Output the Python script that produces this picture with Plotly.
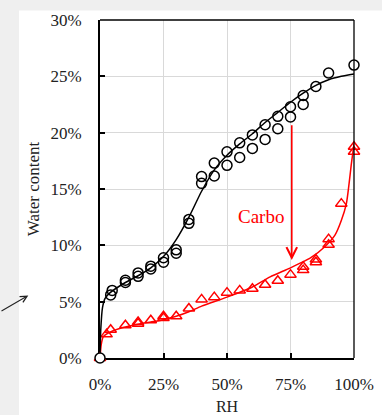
import plotly.graph_objects as go

# Sorption isotherm data: relative humidity (%) vs. water content (%)
circle_rh = [0, 4.2, 4.8, 10, 10, 15, 15, 20, 20, 25, 25, 30, 30, 35, 35,
             40, 40, 45, 45, 50, 50, 55, 55, 60, 60, 65, 65, 70, 70,
             75, 75, 80, 80, 85, 90, 100]
circle_wc = [0, 5.6, 6.0, 6.7, 6.9, 7.25, 7.55, 7.9, 8.15, 8.5, 8.9, 9.3, 9.6, 11.95, 12.3,
             15.5, 16.1, 16.15, 17.3, 17.1, 18.3, 17.8, 19.1, 18.6, 19.8, 19.4, 20.7, 20.35, 21.45,
             21.4, 22.3, 22.5, 23.3, 24.1, 25.3, 26.0]

fit_black_rh = [0, 0.3, 1, 2, 4, 10, 15, 20, 25, 30, 35, 40, 45, 50, 55, 60,
                65, 70, 75, 80, 85, 90, 95, 100]
fit_black_wc = [0, 2.5, 4.5, 5.3, 5.8, 6.7, 7.3, 8.0, 9.0, 10.5, 12.5, 14.8, 16.7, 18.0, 19.0, 19.9,
                20.9, 21.8, 22.7, 23.5, 24.2, 24.7, 25.0, 25.2]

tri_rh = [0, 2.6, 4.2, 10, 15, 15, 20, 25, 25, 30, 35, 40, 45, 50, 55, 60, 65, 70,
          75, 80, 80, 85, 85, 90, 90, 95, 100, 100]
tri_wc = [0, 2.1, 2.5, 2.9, 3.05, 3.2, 3.35, 3.55, 3.7, 3.7, 4.4, 5.2, 5.4, 5.8, 6.0, 6.15, 6.5, 6.85,
          7.4, 7.8, 8.1, 8.5, 8.75, 10.05, 10.55, 13.7, 18.3, 18.75]

fit_red_rh = [0, 0.5, 1.3, 4, 9, 15, 20, 25, 30, 35, 40, 50, 60, 67, 75, 83,
              88.6, 92.5, 95, 97, 99, 100]
fit_red_wc = [0, 1.2, 1.9, 2.3, 2.7, 3.0, 3.2, 3.4, 3.7, 4.1, 4.6, 5.4, 6.3, 7.2, 8.0, 8.9,
              9.9, 10.9, 12.2, 13.7, 17.3, 19.0]

x_ticks = [0, 25, 50, 75, 100]
x_labels = ["0%", "25%", "50%", "75%", "100%"]
y_ticks = [0, 5, 10, 15, 20, 25, 30]
y_labels = ["0%", "5%", "10%", "15%", "20%", "25%", "30%"]

# Arrow pointing at the Carbo curve
arrow_rh = 75.5
arrow_from = 20.8
arrow_to = 8.7

FONT = "Liberation Serif"
RED = "#ff0000"
TXT = "#222222"

fig = go.Figure()

fig.add_trace(go.Scatter(x=fit_red_rh, y=fit_red_wc, mode="lines",
                         line=dict(color=RED, width=1.5, shape="spline", smoothing=0.6),
                         hoverinfo="skip"))
fig.add_trace(go.Scatter(x=tri_rh, y=tri_wc, mode="markers", cliponaxis=False,
                         marker=dict(symbol="triangle-up-open", size=10, color=RED,
                                     line=dict(color=RED, width=1.5))))
fig.add_trace(go.Scatter(x=fit_black_rh, y=fit_black_wc, mode="lines",
                         line=dict(color="black", width=1.5, shape="spline", smoothing=0.6),
                         hoverinfo="skip"))
circle_fill = ["white"] + ["rgba(255,255,255,0)"] * (len(circle_rh) - 1)
fig.add_trace(go.Scatter(x=circle_rh, y=circle_wc, mode="markers", cliponaxis=False,
                         marker=dict(symbol="circle", size=10, color=circle_fill,
                                     line=dict(color="black", width=1.5))))

fig.update_xaxes(
    range=[0, 100], tickmode="array", tickvals=x_ticks, ticktext=x_labels,
    showgrid=True, gridcolor="#d9d9d9", gridwidth=1,
    showline=True, linecolor="black", linewidth=2,
    ticks="inside", ticklen=5, tickcolor="black", tickwidth=1.5,
    zeroline=False, layer="below traces", ticklabelstandoff=10, automargin=False,
    tickfont=dict(family=FONT, size=17, color=TXT),
    title=dict(text="RH", font=dict(family=FONT, size=16, color=TXT), standoff=12),
)
fig.update_yaxes(
    range=[0, 30], tickmode="array", tickvals=y_ticks, ticktext=y_labels,
    showgrid=True, gridcolor="#d9d9d9", gridwidth=1,
    showline=True, linecolor="black", linewidth=2,
    ticks="inside", ticklen=5, tickcolor="black", tickwidth=1.5,
    zeroline=False, layer="below traces", ticklabelstandoff=13, automargin=False,
    tickfont=dict(family=FONT, size=17, color=TXT),
    title=dict(text="Water content", font=dict(family=FONT, size=17, color=TXT), standoff=6),
)

fig.update_layout(
    width=382, height=415,
    margin=dict(l=100, r=28, t=19.5, b=56.5),
    font=dict(family=FONT, size=17, color=TXT),
    paper_bgcolor="#efefef", plot_bgcolor="white",
    showlegend=False,
    shapes=[
        # white page area
        dict(type="rect", xref="paper", yref="paper", layer="below",
             x0=(19 - 100) / 254, x1=1.2, y0=-0.3, y1=(358.5 - 10) / 339,
             fillcolor="white", line=dict(width=0)),
        # thin top and right frame
        dict(type="line", xref="paper", yref="paper", x0=0, x1=1, y0=1, y1=1,
             line=dict(color="black", width=1.3)),
        dict(type="line", xref="paper", yref="paper", x0=1, x1=1, y0=0, y1=1,
             line=dict(color="black", width=1.3)),
    ],
    annotations=[
        dict(x=arrow_rh, y=arrow_to, ax=arrow_rh, ay=arrow_from, xref="x", yref="y",
             axref="x", ayref="y", text="", showarrow=True, arrowhead=5,
             arrowsize=1.3, arrowwidth=1.6, arrowcolor=RED),
        dict(x=(260.5 - 100) / 254 * 100, y=(358.5 - 217) / 339 * 30, xref="x", yref="y",
             text="Carbo", showarrow=False,
             font=dict(family=FONT, size=19, color=RED)),
        dict(x=(28.3 - 100) / 254, y=(358.5 - 295.7) / 339, xref="paper", yref="paper",
             ax=-40, ay=16.4, text="", showarrow=True, arrowhead=5,
             arrowsize=1.2, arrowwidth=1.1, arrowcolor=TXT),
    ],
)

fig.write_html("out.html")
